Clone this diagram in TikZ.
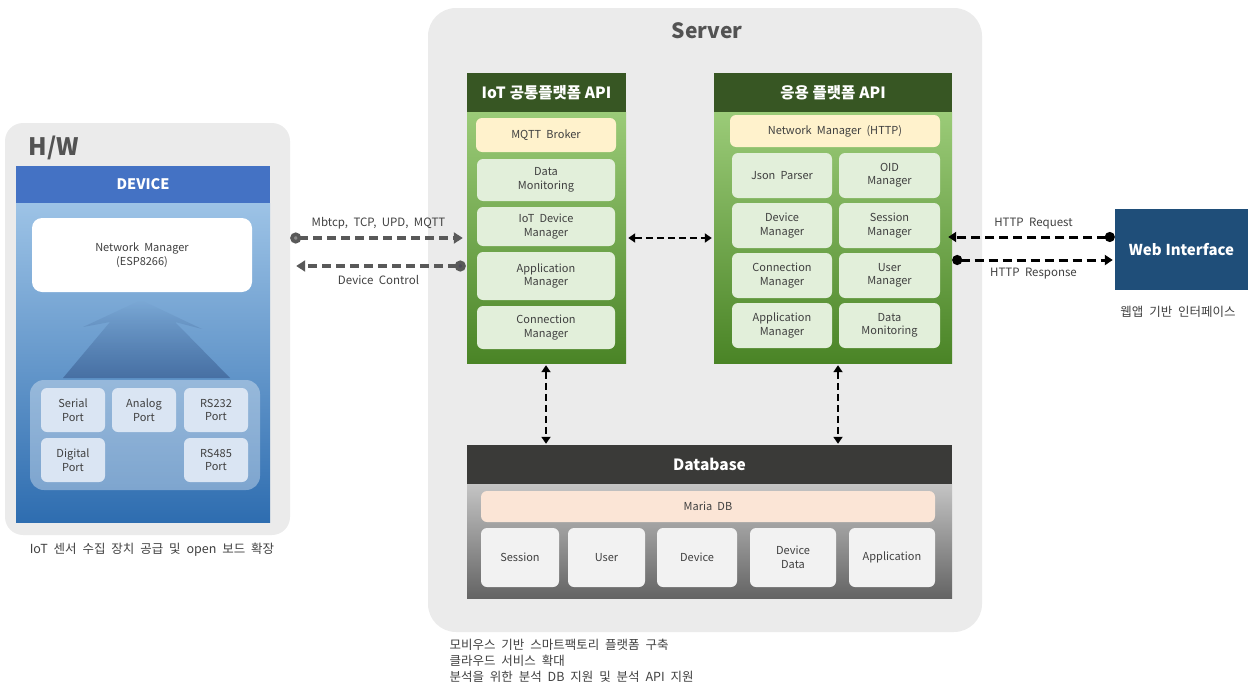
\documentclass[tikz,border=0pt]{standalone}
\usepackage{fontspec}
\setmainfont[WordSpace=2.1, BoldFeatures={WordSpace=1.1}]{Noto Sans CJK KR}
\usetikzlibrary{arrows.meta,shadings,fadings}

\definecolor{panelgray}{HTML}{EBEBEB}
\definecolor{txtgray}{HTML}{404040}
\definecolor{devhead}{HTML}{4472C4}
\definecolor{devtop}{HTML}{9DC3E6}
\definecolor{devbot}{HTML}{2E6DB0}
\definecolor{portfill}{HTML}{DAE5F3}
\definecolor{greenhead}{HTML}{375623}
\definecolor{greentop}{HTML}{9BCB78}
\definecolor{greenbot}{HTML}{4A8426}
\definecolor{greenbox}{HTML}{E2EFDA}
\definecolor{yellowbox}{HTML}{FFF2CC}
\definecolor{dbhead}{HTML}{3A3A38}
\definecolor{dbtop}{HTML}{C4C4C4}
\definecolor{dbbot}{HTML}{646464}
\definecolor{peach}{HTML}{FBE5D6}
\definecolor{dbbox}{HTML}{F2F2F2}
\definecolor{webblue}{HTML}{1F4E79}
\definecolor{linkgray}{HTML}{595959}
\definecolor{dotgray}{HTML}{8A8A8A}
\definecolor{dotdark}{HTML}{4D4A5A}

\tikzset{
  panel/.style={fill=panelgray, rounded corners=18pt, draw=none},
  boxsz/.style 2 args={minimum width=#1, minimum height=#2, inner sep=0pt},
  headbox/.style={draw=none, text=white, font=\fontsize{15.5}{18}\selectfont\bfseries},
  item/.style={draw=none, rounded corners=6pt, align=center, text=txtgray,
    font=\fontsize{11}{13.5}\selectfont},
  gitem/.style={item, fill=greenbox},
  pitem/.style={item, fill=portfill},
  ditem/.style={item, fill=dbbox},
  caption/.style={text=txtgray, font=\fontsize{12.5}{16}\selectfont, align=left},
  linklabel/.style={text=txtgray, font=\fontsize{11.5}{13}\selectfont},
  link/.style={line width=3.5pt, dash pattern=on 9pt off 5pt, draw=#1},
  blink/.style={line width=2.6pt, dash pattern=on 7pt off 4pt, draw=black,
    {Triangle[length=7pt,width=9pt]}-{Triangle[length=7pt,width=9pt]}},
}

\begin{document}
\begin{tikzpicture}[x=1pt, y=-1pt]
  \useasboundingbox (0,0) rectangle (1250,688);

  % H/W panel
  \node[panel, boxsz={285pt}{412pt}] (hw) at (147.5,329) {};
  \node[text=txtgray!90, font=\fontsize{24}{26}\selectfont\bfseries, anchor=west]
    (hwtitle) at (25,148) {H/W};
  \node[boxsz={254pt}{319pt}, top color=devtop, bottom color=devbot] (devbody) at (143,362.5) {};
  \node[headbox, fill=devhead, boxsz={254pt}{37pt}, font=\fontsize{14.5}{17}\selectfont\bfseries]
    (devhead) at (143,184.5) {DEVICE};
  \node[fill=white, rounded corners=10pt, boxsz={220pt}{74pt}, align=center,
    text=txtgray, font=\fontsize{11}{13.5}\selectfont] (netman) at (142,255)
    {Network Manager\\(ESP8266)};

  % faint arrow from the ports up to the network manager
  \fill[devhead!60!black, fill opacity=0.45, path fading=north]
    (141,300) -- (202,329) -- (175,322) -- (230,378) -- (63,378) -- (110,322) -- (83,327) -- cycle;

  % ports
  \node[fill=white, fill opacity=0.35, rounded corners=14pt, boxsz={230pt}{110pt}] (portbox) at (145,435) {};
  \node[pitem, boxsz={64pt}{44pt}] (serial) at (73,410) {Serial\\Port};
  \node[pitem, boxsz={64pt}{44pt}] (analog) at (144,410) {Analog\\Port};
  \node[pitem, boxsz={64pt}{44pt}] (rs232) at (216,410) {RS232\\Port};
  \node[pitem, boxsz={64pt}{44pt}] (digital) at (73,460) {Digital\\Port};
  \node[pitem, boxsz={64pt}{44pt}] (rs485) at (216,460) {RS485\\Port};

  \node[caption] (hwcap) at (152,550) {IoT 센서 수집 장치 공급 및 open 보드 확장};

  % Server panel
  \node[panel, boxsz={554pt}{624pt}, rounded corners=28pt] (server) at (705,320) {};
  \node[text=txtgray!90, font=\fontsize{21}{23}\selectfont\bfseries] (servertitle) at (707,31) {Server};

  % IoT platform API
  \node[boxsz={159pt}{251pt}, top color=greentop, bottom color=greenbot] (iotbody) at (546.5,237.5) {};
  \node[headbox, fill=greenhead, boxsz={159pt}{39pt}] (iothead) at (546.5,92.5) {IoT 공통플랫폼 API};
  \node[gitem, fill=yellowbox, boxsz={140pt}{34pt}] (mqtt) at (546,135) {MQTT Broker};
  \node[gitem, boxsz={138pt}{42pt}] (datamon) at (546,180) {Data\\Monitoring};
  \node[gitem, boxsz={138pt}{39pt}] (iotdev) at (546,226.5) {IoT Device\\Manager};
  \node[gitem, boxsz={138pt}{48pt}] (appmgr) at (546,276) {Application\\Manager};
  \node[gitem, boxsz={138pt}{43pt}] (connmgr) at (546,327.5) {Connection\\Manager};

  % application platform API
  \node[boxsz={238pt}{251pt}, top color=greentop, bottom color=greenbot] (appbody) at (833,237.5) {};
  \node[headbox, fill=greenhead, boxsz={238pt}{39pt}] (apphead) at (833,92.5) {응용 플랫폼 API};
  \node[gitem, fill=yellowbox, boxsz={210pt}{32pt}] (nethttp) at (835,131) {Network Manager (HTTP)};
  \node[gitem, boxsz={100pt}{45pt}] (json) at (782,175.5) {Json Parser};
  \node[gitem, boxsz={101pt}{45pt}] (oid) at (889.5,175.5) {OID\\Manager};
  \node[gitem, boxsz={100pt}{45pt}] (devmgr) at (782,225.5) {Device\\Manager};
  \node[gitem, boxsz={101pt}{45pt}] (sessmgr) at (889.5,225.5) {Session\\Manager};
  \node[gitem, boxsz={100pt}{45pt}] (connmgr2) at (782,275.5) {Connection\\Manager};
  \node[gitem, boxsz={101pt}{45pt}] (usermgr) at (889.5,275.5) {User\\Manager};
  \node[gitem, boxsz={100pt}{45pt}] (appmgr2) at (782,325.5) {Application\\Manager};
  \node[gitem, boxsz={101pt}{45pt}] (datamon2) at (889.5,325.5) {Data\\Monitoring};

  % Database
  \node[boxsz={485pt}{114pt}, top color=dbtop, bottom color=dbbot] (dbbody) at (709.5,541) {};
  \node[headbox, fill=dbhead, boxsz={485pt}{39pt}] (dbheadnode) at (709.5,464.5) {Database};
  \node[ditem, fill=peach, boxsz={454pt}{31pt}] (maria) at (708,506.5) {Maria DB};
  \node[ditem, boxsz={78pt}{59pt}] (session) at (520,557.5) {Session};
  \node[ditem, boxsz={77pt}{59pt}] (user) at (606.5,557.5) {User};
  \node[ditem, boxsz={80pt}{59pt}] (device) at (697,557.5) {Device};
  \node[ditem, boxsz={86pt}{59pt}] (devdata) at (793,557.5) {Device\\Data};
  \node[ditem, boxsz={86pt}{59pt}] (application) at (892,557.5) {Application};

  \node[caption, anchor=north west] (servercap) at (446,636)
    {모비우스 기반 스마트팩토리 플랫폼 구축\\클라우드 서비스 확대\\분석을 위한 분석 DB 지원 및 분석 API 지원};

  % Web interface
  \node[fill=webblue, text=white, font=\fontsize{15}{18}\selectfont\bfseries,
    boxsz={133pt}{81pt}] (web) at (1181.5,249.5) {Web Interface};
  \node[caption] (webcap) at (1178,312) {웹앱 기반 인터페이스};

  % Draw the links between the device and the IoT platform
  \draw[link=linkgray, {Circle[length=11pt,fill=dotgray]}-{Triangle[length=9pt,width=11pt]}, shorten >=4pt]
    (hw.east |- 0,238) -- (iotbody.west |- 0,238)
    node[midway, above=4pt, linklabel] (mblabel) {Mbtcp, TCP, UPD, MQTT};
  \draw[link=linkgray, {Circle[length=11pt,fill=dotdark]}-{Triangle[length=9pt,width=11pt]}, shorten <=1pt, shorten >=6pt]
    (iotbody.west |- 0,266) -- (hw.east |- 0,266)
    node[midway, below=4pt, linklabel] (dclabel) {Device Control};

  % Draw the links inside the server
  \draw[blink, shorten <=2pt, shorten >=2pt] (iotbody.east |- 0,238) -- (appbody.west |- 0,238);
  \draw[blink, shorten <=2pt, shorten >=1pt] (iotbody.south -| 546,0) -- (dbheadnode.north -| 546,0);
  \draw[blink, shorten <=2pt, shorten >=1pt] (appbody.south -| 838,0) -- (dbheadnode.north -| 838,0);

  % Draw the links to the web interface
  \draw[link=black, {Circle[length=10pt]}-{Triangle[length=8pt,width=10pt]}, line width=3pt, shorten >=-4pt]
    (web.west |- 0,237) -- (appbody.east |- 0,237)
    node[midway, above=3pt, linklabel] (reqlabel) {HTTP Request};
  \draw[link=black, {Circle[length=10pt]}-{Triangle[length=8pt,width=10pt]}, line width=3pt, shorten >=2pt]
    (appbody.east |- 0,260) -- (web.west |- 0,260)
    node[midway, below=3pt, linklabel] (reslabel) {HTTP Response};
\end{tikzpicture}
\end{document}
